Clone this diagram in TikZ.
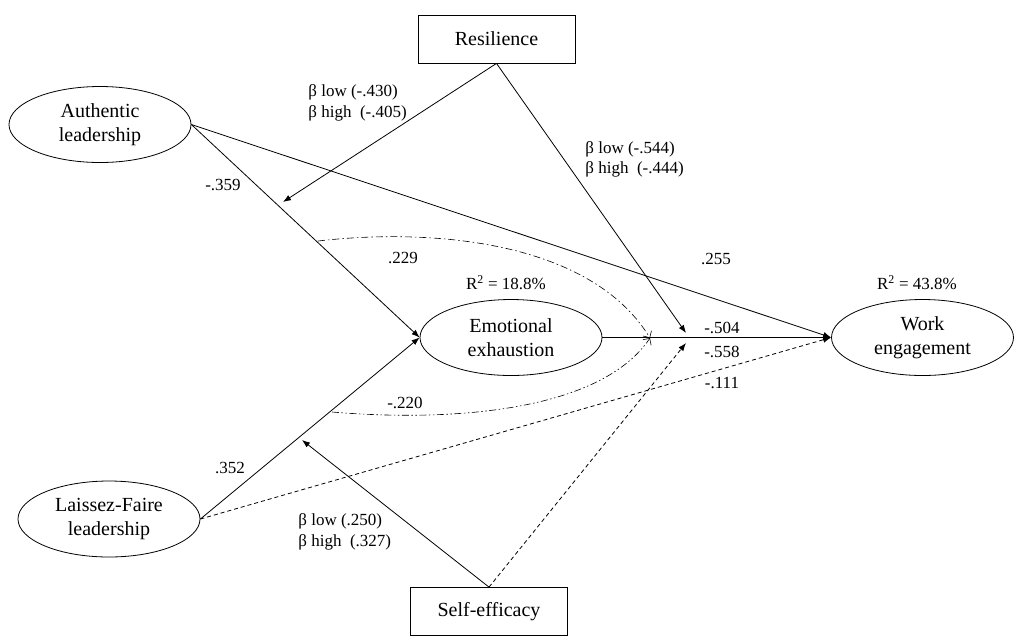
\documentclass[tikz,border=0pt]{standalone}
\usepackage{fontspec}
\setmainfont{Liberation Serif}
\usetikzlibrary{shapes.geometric,arrows.meta}
\begin{document}
\begin{tikzpicture}[x=1pt,y=-1pt,
  line width=0.8pt,
  latent/.style={ellipse,draw,inner sep=0pt,minimum width=182pt,minimum height=76pt,align=center,font=\fontsize{20}{23.5}\selectfont},
  modbox/.style={rectangle,draw,inner sep=0pt,minimum width=157pt,minimum height=48pt,font=\fontsize{20}{23.5}\selectfont},
  lab/.style={inner sep=0pt,font=\fontsize{17}{20.5}\selectfont},
  blab/.style={lab,align=left,anchor=west},
  path/.style={-{Latex[length=8pt,width=6pt]}},
  dpath/.style={path,dash pattern=on 4pt off 3pt},
  ind1/.style={-{Straight Barb[length=5pt,width=10pt]},line width=0.6pt,dash pattern=on 7pt off 3pt on 1.5pt off 3pt},
  ind2/.style={-{Straight Barb[length=5pt,width=10pt]},line width=0.6pt,dash pattern=on 7pt off 2.5pt on 1.5pt off 2.5pt on 1.5pt off 2.5pt}
]
\useasboundingbox (0,0) rectangle (1017,641);

% nodes
\node[latent] (al) at (100,124.5) {Authentic\\leadership};
\node[latent] (lf) at (109,519) {Laissez-Faire\\leadership};
\node[latent] (ee) at (511,337.5) {Emotional\\exhaustion};
\node[latent] (we) at (922.5,337.5) {Work\\engagement};
\node[modbox] (res) at (496.5,39) {Resilience};
\node[modbox] (se) at (489,611.5) {Self-efficacy};

% moderation targets
\coordinate (m1) at (283,202);
\coordinate (m2) at (686,333);
\coordinate (m3) at (302,440);
\coordinate (m4) at (686,343);
\coordinate (ci) at (650,338);
\coordinate (s1) at (318,241);
\coordinate (s2) at (332,412);

% direct paths
\draw[path] (al.east) -- (ee.west);
\draw[path] (lf.east) -- (ee.west);
\draw[path] (al.east) -- (we.west);
\draw[path] (ee.east) -- (we.west);
\draw[dpath] (lf.east) -- (we.west);

% moderation paths
\draw[path] (res.south) -- (m1);
\draw[path] (res.south) -- (m2);
\draw[path] (se.north) -- (m3);
\draw[dpath] (se.north) -- (m4);

% indirect paths
\draw[ind1] (s1) .. controls (430,228) and (590,240) .. (ci);
\draw[ind2] (s2) .. controls (450,422) and (600,412) .. (ci);

% labels
\node[blab] (l1) at (308,103) {β low (-.430)\\β high \ (-.405)};
\node[lab] (l2) at (223,185) {-.359};
\node[lab] (l3) at (403,258) {.229};
\node[lab] (l4) at (506,283) {R\textsuperscript{2} = 18.8\%};
\node[blab] (l5) at (585,159.5) {β low (-.544)\\β high \ (-.444)};
\node[lab] (l6) at (716,259) {.255};
\node[lab] (l7) at (917,283) {R\textsuperscript{2} = 43.8\%};
\node[lab] (l8) at (722,328) {-.504};
\node[lab] (l9) at (722,352) {-.558};
\node[lab] (l10) at (722,383) {-.111};
\node[lab] (l11) at (405,403) {-.220};
\node[lab] (l12) at (230,468) {.352};
\node[blab] (l13) at (298,532) {β low (.250)\\β high \ (.327)};
\end{tikzpicture}
\end{document}
